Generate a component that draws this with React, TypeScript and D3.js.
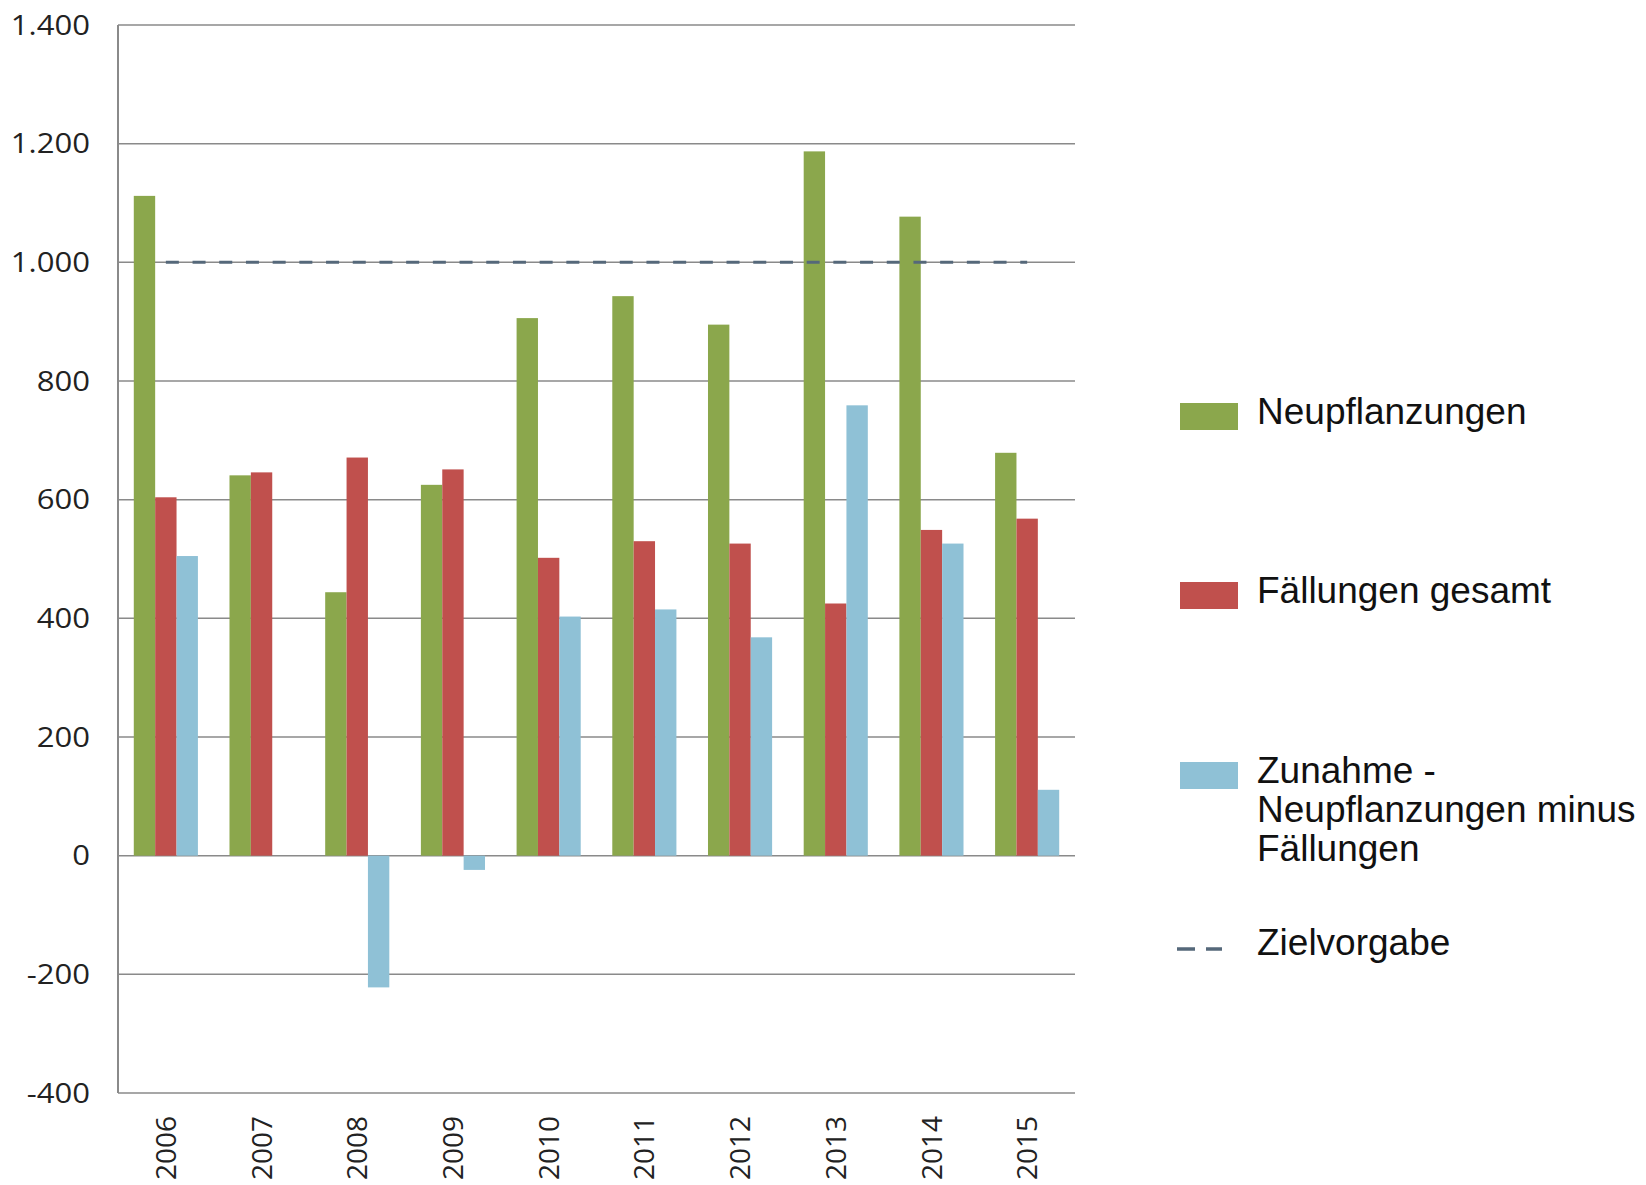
import * as d3 from 'd3';

const years = ['2006', '2007', '2008', '2009', '2010', '2011', '2012', '2013', '2014', '2015'];
const neupflanzungen = [1112, 641, 444, 625, 906, 943, 895, 1187, 1077, 679];
const faellungen = [604, 646, 671, 651, 502, 530, 526, 425, 549, 568];
const zunahme: (number | null)[] = [505, null, -222, -24, 403, 415, 368, 759, 526, 111];
const zielvorgabe = 1000;
const yTicks = [-400, -200, 0, 200, 400, 600, 800, 1000, 1200, 1400];

const seriesNames = ['Neupflanzungen', 'Fällungen gesamt', 'Zunahme'];
const seriesColors = ['#8BA74C', '#C0504D', '#8FC1D6'];
const legendLines = [
  ['Neupflanzungen'],
  ['Fällungen gesamt'],
  ['Zunahme -', 'Neupflanzungen minus', 'Fällungen'],
];
const targetLabel = 'Zielvorgabe';

const W = 1646;
const H = 1185;

export default function App() {
  const left = 118;
  const right = 1075;
  const top = 25;
  const bottom = 1093;

  const x0 = d3.scaleBand<string>().domain(years).range([left, right]).paddingInner(0.33).paddingOuter(0.165);
  const x1 = d3.scaleBand<string>().domain(seriesNames).range([0, x0.bandwidth()]);
  const y = d3.scaleLinear().domain([-400, 1400]).range([bottom, top]);

  const series = [neupflanzungen, faellungen, zunahme];
  const gridColor = '#8a8a8a';
  const targetColor = '#55687A';

  const targetLine = d3
    .line<string>()
    .x((d) => (x0(d) ?? 0) + x0.bandwidth() / 2)
    .y(() => y(zielvorgabe));

  // legend baselines
  const legendY = [424, 603, 783];
  const legendLineGap = 39;
  const legendFont = "'Liberation Sans', Arial, sans-serif";

  return (
    <svg
      width={W}
      height={H}
      style={{ position: 'absolute', left: 0, top: 0, background: '#fff' }}
    >
      <rect x={0} y={0} width={W} height={H} fill="#fff" />

      {/* gridlines */}
      {yTicks.map((t) => (
        <line key={t} x1={left} x2={right} y1={y(t)} y2={y(t)} stroke={gridColor} strokeWidth={1.5} />
      ))}
      <line x1={left} x2={left} y1={top} y2={bottom} stroke={gridColor} strokeWidth={2} />

      {/* y tick labels */}
      {yTicks.map((t) => (
        <g key={'l' + t} transform={`translate(90,${y(t)}) scale(1.15,1)`}>
          <text
            textAnchor="end"
            dy="0.36em"
            fontFamily="'Open Sans', sans-serif"
            fontSize={27}
            fill="#222"
          >
            {d3.format(',')(t).replace(/,/g, '.').replace('−', '-')}
          </text>
        </g>
      ))}

      {/* bars */}
      {series.map((vals, si) =>
        years.map((yr, i) => {
          const v = vals[i];
          if (v == null) return null;
          const bx = (x0(yr) ?? 0) + (x1(seriesNames[si]) ?? 0);
          return (
            <rect
              key={si + '-' + yr}
              x={bx}
              y={y(Math.max(0, v))}
              width={x1.bandwidth()}
              height={Math.abs(y(v) - y(0))}
              fill={seriesColors[si]}
            />
          );
        })
      )}

      {/* target line */}
      <path
        d={targetLine([years[0], years[years.length - 1]]) ?? ''}
        fill="none"
        stroke={targetColor}
        strokeWidth={3}
        strokeDasharray="13 13.7"
      />

      {/* x labels */}
      {years.map((yr) => (
        <text
          key={'x' + yr}
          transform={`translate(${(x0(yr) ?? 0) + x0.bandwidth() / 2},1116) rotate(-90)`}
          textAnchor="end"
          dy="0.36em"
          fontFamily="'Open Sans', sans-serif"
          fontSize={28}
          fill="#222"
        >
          {yr}
        </text>
      ))}

      {/* legend */}
      {legendLines.map((lines, i) => (
        <g key={'lg' + i}>
          <rect x={1180} y={legendY[i] - 21} width={58} height={27} fill={seriesColors[i]} />
          {lines.map((ln, j) => (
            <text
              key={j}
              x={1257}
              y={legendY[i] + j * legendLineGap}
              fontFamily={legendFont}
              fontSize={37}
              fill="#111"
            >
              {ln}
            </text>
          ))}
        </g>
      ))}
      <line x1={1177} x2={1222} y1={949} y2={949} stroke={targetColor} strokeWidth={3.5} strokeDasharray="18 11" />
      <text x={1257} y={955} fontFamily={legendFont} fontSize={37} fill="#111">
        {targetLabel}
      </text>
    </svg>
  );
}
